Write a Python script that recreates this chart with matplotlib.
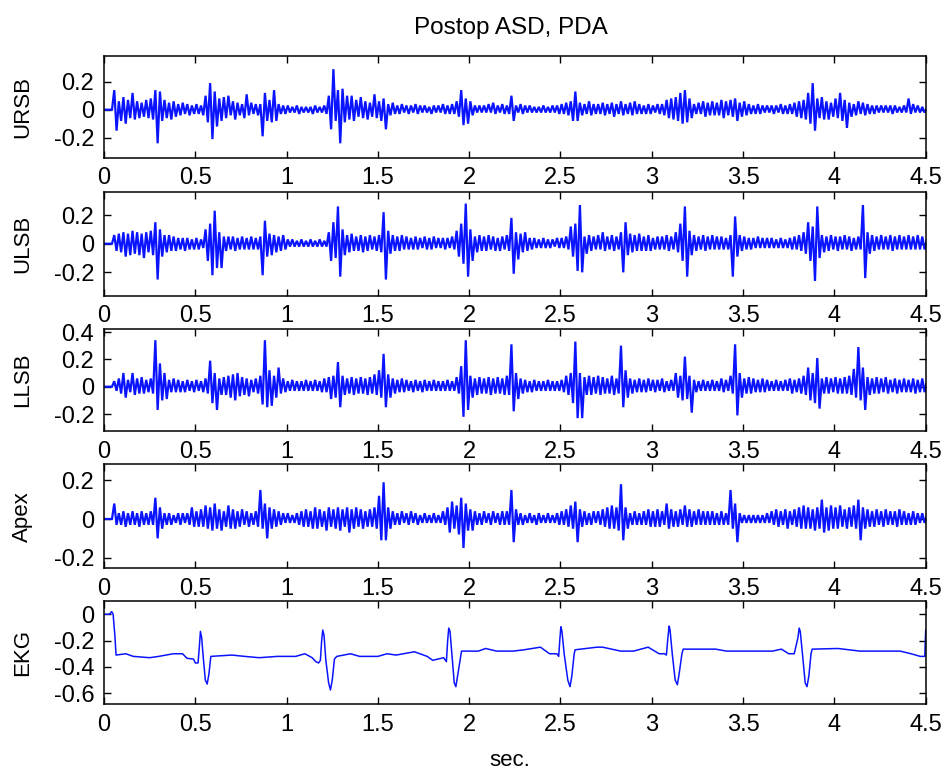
import numpy as np
import matplotlib
matplotlib.use('Agg')
import matplotlib.pyplot as plt

plt.rcParams['font.family'] = ['Liberation Sans', 'DejaVu Sans']
plt.rcParams['axes.unicode_minus'] = False

# ---- data ----
# Phonocardiogram channels: per 0.025 s bin, upper (HI) and lower (LO, magnitude) excursion in hundredths
DT = 0.025

URSB_HI = [0,0,14,6,9,7,12,6,5,7, 8,14,13,7,5,6,4,5,4,3, 4,3,10,19,13,8,9,10,6,5,
           4,11,5,4,4,12,7,14,4,3, 3,2,3,2,2,2,3,2,3,10, 29,14,15,10,10,7,9,6,5,11,
           6,8,4,5,3,4,3,3,4,3, 3,2,3,3,4,3,4,6,14,8, 6,3,3,3,4,5,3,4,3,10,
           3,4,3,3,2,2,3,2,3,3, 4,5,6,13,5,4,6,4,4,5, 4,5,4,6,4,5,6,4,3,4,
           3,4,4,7,8,9,12,14,8,4, 5,6,5,6,5,7,6,7,8,5, 6,4,3,4,3,3,3,3,4,3,
           4,5,6,7,12,19,8,9,6,5, 8,12,7,5,4,6,5,4,3,3, 3,3,3,3,2,3,8,4,3,2, 1]
URSB_LO = [0,0,15,8,10,6,7,6,5,6, 7,24,8,6,7,5,4,3,4,3, 3,4,9,21,12,8,6,4,7,4,
           6,4,3,4,19,8,9,8,3,3, 2,2,3,2,2,3,2,2,3,14, 8,24,9,7,8,5,6,7,5,6,
           8,14,4,3,3,2,3,2,3,2, 2,3,2,2,3,3,3,5,11,10, 4,2,2,2,2,3,2,3,3,8,
           2,3,2,2,2,2,2,2,2,3, 3,4,8,8,4,3,4,3,3,4, 3,5,3,4,3,4,3,3,3,3,
           2,3,4,6,7,8,10,9,6,3, 3,5,4,4,4,6,4,5,8,5, 4,3,3,3,2,2,3,2,3,3,
           3,5,6,7,10,15,6,7,7,5, 6,8,13,5,4,3,4,3,3,2, 2,2,3,2,2,2,3,2,2,2, 1]

ULSB_HI = [0,0,6,7,8,7,9,8,7,8, 9,15,10,6,6,5,4,4,4,3, 4,3,10,14,23,8,5,5,5,4,
           5,4,5,4,5,16,7,6,5,6, 3,3,2,3,2,3,2,3,2,8, 15,26,10,6,7,5,6,5,6,5,
           6,22,9,6,5,6,5,4,5,4, 5,4,5,4,4,4,5,9,14,28, 10,5,6,5,6,5,4,5,6,18,
           8,7,8,4,4,3,4,3,3,4, 4,5,12,14,27,5,6,5,6,8, 5,6,5,8,15,7,6,7,5,6,
           4,5,5,6,5,8,14,26,9,6, 5,6,5,6,5,5,4,6,19,6, 5,4,4,5,4,4,4,3,4,3,
           4,5,6,8,15,12,26,6,5,6, 5,5,6,5,4,5,27,8,6,5, 6,5,6,5,6,5,6,5,6,5, 3]
ULSB_LO = [0,0,5,6,9,8,7,8,10,6, 8,25,9,6,5,5,4,5,4,4, 4,3,12,22,17,17,5,4,5,4,
           4,4,4,4,22,9,8,6,5,4, 2,2,2,2,2,2,2,2,2,12, 10,23,8,6,5,5,6,5,4,5,
           6,25,7,5,5,4,4,4,4,3, 4,4,3,3,4,3,4,9,14,23, 12,6,5,5,4,5,5,4,5,21,
           11,6,5,4,3,3,3,3,2,3, 3,4,9,19,20,7,5,4,4,5, 4,5,4,20,8,6,5,5,5,5,
           4,4,4,5,4,6,12,23,8,5, 4,5,4,4,4,4,4,23,9,5, 4,4,3,3,3,3,3,3,3,3,
           4,4,5,7,12,26,10,6,5,4, 5,4,4,5,4,4,24,7,5,4, 4,4,5,4,4,4,4,4,4,4, 2]

LLSB_HI = [0,0,4,6,10,5,10,6,7,5, 6,34,17,10,5,6,5,4,5,4, 5,4,6,19,10,6,7,8,9,10,
           7,6,5,6,8,34,12,8,14,6, 4,5,4,4,5,4,5,4,6,7, 8,18,8,6,7,6,7,6,7,9,
           12,24,9,6,5,6,5,4,5,4, 5,4,5,4,4,5,4,7,15,34, 8,6,7,6,7,6,7,6,8,31,
           10,6,5,4,5,4,4,5,4,4, 5,8,10,33,10,7,8,7,8,7, 6,8,6,30,12,6,5,6,5,6,
           5,5,6,4,5,10,8,22,8,5, 4,5,4,5,4,6,5,8,31,10, 6,7,6,5,6,5,4,5,4,5,
           6,5,6,8,14,10,21,6,7,6, 7,6,7,8,13,29,14,7,6,7, 6,7,5,6,5,6,5,6,5,6, 4]
LLSB_LO = [0,0,3,5,8,4,6,5,5,4, 5,17,10,9,4,4,4,4,3,4, 3,4,5,12,17,6,6,8,10,7,
           6,7,4,5,13,15,14,8,5,4, 3,3,3,3,3,3,3,4,4,9, 8,15,6,5,6,5,5,6,5,6,
           8,15,8,5,4,4,3,4,3,4, 3,3,3,3,3,3,3,5,22,17, 8,6,5,5,6,5,5,6,6,18,
           9,5,4,4,3,3,3,3,3,3, 4,6,12,23,23,6,6,5,6,5, 5,6,5,15,8,5,4,4,4,3,
           4,3,4,3,3,8,10,9,19,4, 3,3,3,3,3,4,3,5,21,8, 5,5,4,4,4,3,3,3,3,3,
           5,4,5,6,10,12,16,5,5,4, 5,5,5,6,8,10,17,6,5,5, 4,5,4,5,4,4,4,5,4,4, 3]

APEX_HI = [0,0,8,3,4,3,4,3,4,3, 4,11,6,3,3,2,3,3,3,6, 4,5,7,6,8,5,4,7,5,4,
           5,4,3,4,15,8,6,5,4,3, 3,2,3,4,5,4,6,5,4,6, 5,6,5,6,5,6,5,4,5,6,
           12,19,6,4,3,4,3,4,3,2, 3,2,3,2,4,6,9,7,11,8, 5,4,3,4,3,4,3,4,4,15,
           5,3,2,3,2,3,2,3,2,3, 4,5,7,9,5,4,3,4,4,5, 6,7,6,18,6,3,4,3,4,5,
           4,5,4,8,5,4,5,7,5,4, 5,4,4,4,3,4,3,15,8,3, 2,2,2,2,2,3,4,5,4,5,
           4,5,6,7,6,5,6,10,6,7, 6,7,5,6,7,10,6,5,4,5, 4,5,4,4,5,4,3,4,3,3, 2]
APEX_LO = [0,0,3,3,4,3,3,4,3,3, 3,10,5,3,3,2,3,2,3,4, 4,4,5,6,5,6,4,5,5,4,
           3,4,3,4,5,10,5,4,3,2, 2,2,3,4,4,5,5,4,6,4, 5,6,4,7,5,4,5,4,4,5,
           11,11,5,3,3,2,3,2,3,2, 2,2,2,2,3,7,5,8,15,6, 6,3,3,2,3,2,3,3,3,12,
           3,3,2,2,3,2,2,2,2,3, 3,4,5,12,4,3,3,2,3,4, 5,5,6,11,5,3,3,3,3,4,
           4,4,3,5,4,4,3,4,4,3, 3,3,3,3,3,3,3,5,12,2, 2,2,2,2,2,2,3,4,3,5,
           3,4,5,5,5,6,5,7,6,5, 5,4,5,4,5,11,5,4,4,3, 4,3,3,4,3,3,3,3,2,2, 1]

# EKG trace breakpoints (time in s, value)
EKG_T = [0.000, 0.030, 0.042, 0.050, 0.060, 0.066, 0.120, 0.160, 0.250, 0.300, 0.380, 0.430,
         0.455, 0.490, 0.500, 0.515, 0.522, 0.528, 0.535, 0.545, 0.555, 0.565, 0.575, 0.585,
         0.700, 0.770, 0.850, 0.950, 1.050, 1.100, 1.140, 1.160, 1.175, 1.185, 1.192, 1.198,
         1.205, 1.215, 1.230, 1.240, 1.250, 1.262, 1.275, 1.350, 1.400, 1.500, 1.550, 1.600,
         1.700, 1.770, 1.800, 1.860, 1.875, 1.882, 1.888, 1.895, 1.905, 1.918, 1.927, 1.935,
         1.950, 1.958, 2.050, 2.090, 2.150, 2.240, 2.300, 2.390, 2.440, 2.480, 2.490, 2.497,
         2.502, 2.508, 2.520, 2.540, 2.552, 2.562, 2.575, 2.580, 2.700, 2.730, 2.830, 2.900,
         2.980, 3.040, 3.070, 3.080, 3.088, 3.095, 3.100, 3.112, 3.128, 3.140, 3.150, 3.165,
         3.172, 3.350, 3.410, 3.480, 3.660, 3.710, 3.750, 3.780, 3.800, 3.807, 3.813, 3.825,
         3.840, 3.850, 3.860, 3.872, 3.878, 4.020, 4.140, 4.240, 4.360, 4.420, 4.470, 4.495, 4.500]
EKG_V = [0.00, 0.00, 0.02, 0.00, -0.17, -0.31, -0.30, -0.32, -0.33, -0.32, -0.30, -0.30,
         -0.335, -0.34, -0.37, -0.37, -0.25, -0.13, -0.18, -0.35, -0.50, -0.53, -0.45, -0.32,
         -0.31, -0.32, -0.33, -0.32, -0.32, -0.30, -0.33, -0.36, -0.37, -0.35, -0.20, -0.12,
         -0.16, -0.35, -0.52, -0.575, -0.50, -0.34, -0.32, -0.30, -0.32, -0.32, -0.30, -0.31,
         -0.285, -0.32, -0.35, -0.33, -0.36, -0.20, -0.105, -0.13, -0.30, -0.52, -0.55, -0.48,
         -0.35, -0.28, -0.28, -0.26, -0.28, -0.28, -0.27, -0.25, -0.30, -0.30, -0.32, -0.18,
         -0.095, -0.13, -0.30, -0.50, -0.55, -0.47, -0.30, -0.27, -0.25, -0.25, -0.28, -0.28,
         -0.25, -0.30, -0.30, -0.31, -0.18, -0.09, -0.12, -0.30, -0.50, -0.535, -0.45, -0.30,
         -0.265, -0.265, -0.28, -0.28, -0.28, -0.265, -0.30, -0.30, -0.18, -0.105, -0.13, -0.30,
         -0.52, -0.55, -0.47, -0.30, -0.265, -0.26, -0.28, -0.28, -0.28, -0.30, -0.32, -0.32, -0.12]

CHANNELS = ['URSB', 'ULSB', 'LLSB', 'Apex', 'EKG']
TITLE = 'Postop ASD, PDA'
XLABEL = 'sec.'
XTICKS = [0, 0.5, 1, 1.5, 2, 2.5, 3, 3.5, 4, 4.5]
XTICKLABELS = ['0', '0.5', '1', '1.5', '2', '2.5', '3', '3.5', '4', '4.5']
YTICKS = [[-0.2, 0, 0.2], [-0.2, 0, 0.2], [-0.2, 0, 0.2, 0.4], [-0.2, 0, 0.2], [-0.6, -0.4, -0.2, 0]]
YTICKLABELS = [['-0.2', '0', '0.2'], ['-0.2', '0', '0.2'], ['-0.2', '0', '0.2', '0.4'],
               ['-0.2', '0', '0.2'], ['-0.6', '-0.4', '-0.2', '0']]
YLIMS = [(-0.343, 0.386), (-0.363, 0.363), (-0.324, 0.422), (-0.255, 0.283), (-0.684, 0.103)]

# ---- layout ----
W, H = 945, 771
fig = plt.figure(figsize=(W / 100, H / 100), dpi=100)
panel_px = [(55.7, 157.7), (191.7, 295.7), (329.0, 431.0), (464.3, 568.3), (600.7, 704.3)]
left_px, right_px = 104.0, 925.7
BLUE = '#0a14ff'


def zigzag(hi, lo):
    # each bin: its upper excursion in the first half, lower excursion in the second half
    hi = np.asarray(hi, float) / 100.0
    lo = -np.asarray(lo, float) / 100.0
    t = np.arange(len(hi)) * DT
    x = np.empty(2 * len(hi))
    y = np.empty(2 * len(hi))
    x[0::2] = t + DT * 0.25
    x[1::2] = t + DT * 0.75
    y[0::2] = hi
    y[1::2] = lo
    x = np.concatenate([[0.0], x])
    y = np.concatenate([[0.0], y])
    return x, y


series = [(URSB_HI, URSB_LO), (ULSB_HI, ULSB_LO), (LLSB_HI, LLSB_LO), (APEX_HI, APEX_LO)]

for k, (top, bot) in enumerate(panel_px):
    ax = fig.add_axes([left_px / W, 1 - bot / H, (right_px - left_px) / W, (bot - top) / H])
    if k < 4:
        x, y = zigzag(*series[k])
        ax.plot(x, y, color=BLUE, lw=1.6, solid_joinstyle='miter')
    else:
        ax.plot(EKG_T, EKG_V, color=BLUE, lw=1.1)
    ax.set_xlim(0, 4.5)
    ax.set_ylim(*YLIMS[k])
    ax.set_xticks(XTICKS)
    ax.set_xticklabels(XTICKLABELS)
    ax.set_yticks(YTICKS[k])
    ax.set_yticklabels(YTICKLABELS[k])
    ax.tick_params(direction='in', top=True, right=True, length=5, width=1.0,
                   labelsize=17, colors='black', pad=7)
    ax.tick_params(axis='y', pad=7)
    for s in ax.spines.values():
        s.set_linewidth(1.1)
    ax.set_ylabel(CHANNELS[k], fontsize=16)
    ax.yaxis.set_label_coords(-0.086, 0.5)

fig.text(511 / W, 1 - 28 / H, TITLE, ha='center', va='center', fontsize=17.5)
fig.text(510 / W, 1 - 760 / H, XLABEL, ha='center', va='center', fontsize=16)

fig.savefig('out.png', dpi=100)
